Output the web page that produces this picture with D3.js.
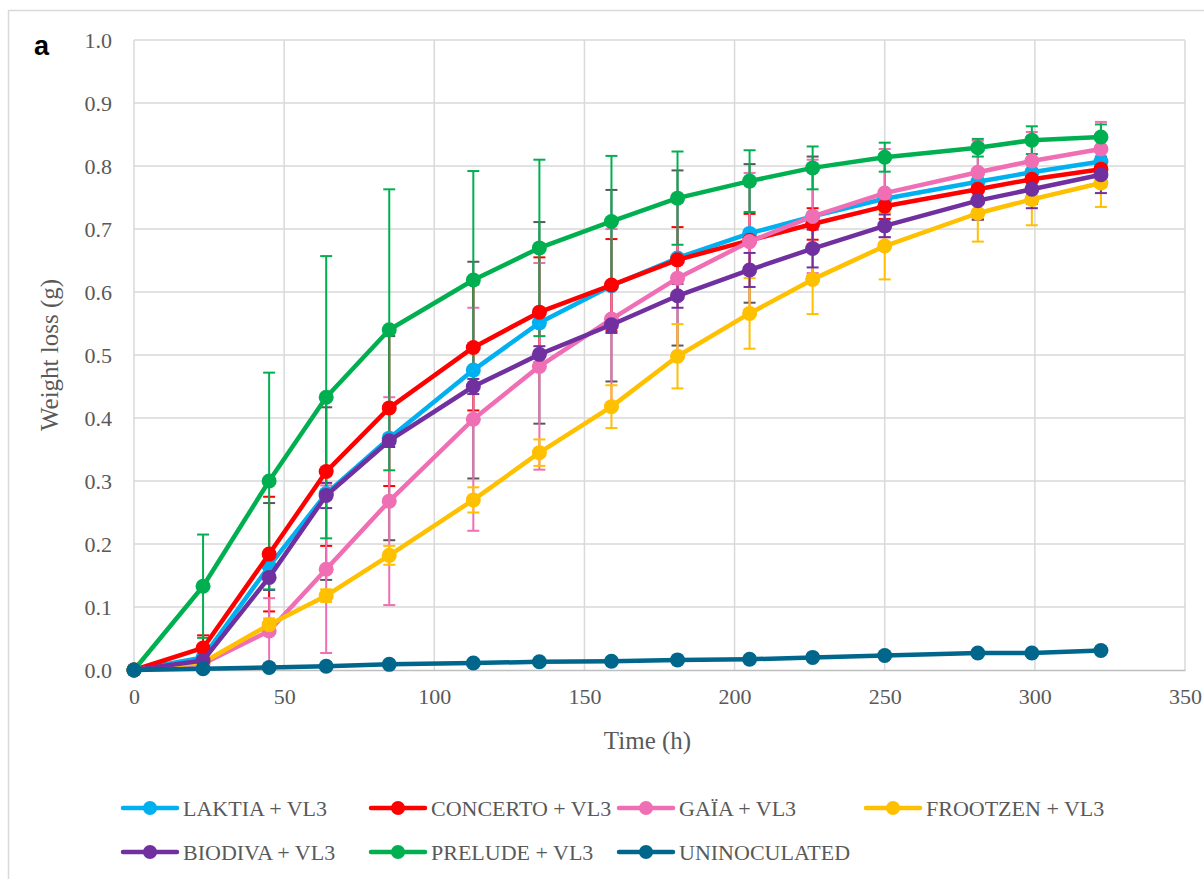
<!DOCTYPE html>
<html>
<head>
<meta charset="utf-8">
<script src="https://cdn.jsdelivr.net/npm/d3@7"></script>
<style>
  body { margin: 0; background: #fff; }
  text { font-family: "Liberation Serif", "Times New Roman", serif; fill: #595959; }
</style>
</head>
<body>
<script>
// sampling times (h)
const hours = [0, 23, 45, 64, 85, 113, 135, 159, 181, 205, 226, 250, 281, 299, 322]

// mean weight loss (g)
const laktia = [0, 0.02, 0.165, 0.28, 0.368, 0.476, 0.551, 0.61, 0.654, 0.693, 0.72, 0.748, 0.775, 0.79, 0.807]
const concerto = [0, 0.035, 0.184, 0.315, 0.416, 0.512, 0.568, 0.611, 0.651, 0.682, 0.708, 0.736, 0.763, 0.779, 0.795]
const gaia = [0, 0.01, 0.062, 0.16, 0.268, 0.398, 0.482, 0.557, 0.622, 0.68, 0.72, 0.757, 0.79, 0.808, 0.827]
const frootzen = [0, 0.012, 0.072, 0.118, 0.182, 0.27, 0.345, 0.418, 0.498, 0.566, 0.62, 0.673, 0.725, 0.747, 0.773]
const biodiva = [0, 0.015, 0.147, 0.277, 0.364, 0.45, 0.501, 0.548, 0.594, 0.635, 0.669, 0.705, 0.745, 0.763, 0.786]
const prelude = [0, 0.133, 0.30, 0.433, 0.54, 0.619, 0.67, 0.712, 0.749, 0.776, 0.797, 0.814, 0.829, 0.841, 0.846]
const uninoculated = [0, 0.002, 0.004, 0.006, 0.009, 0.011, 0.013, 0.014, 0.016, 0.017, 0.02, 0.023, 0.027, 0.027, 0.031]

// standard deviations (error bars)
const laktiaSd = [0, 0.01, 0.10, 0.137, 0.162, 0.172, 0.16, 0.152, 0.139, 0.11, 0.095, 0.07, 0.06, 0.05, 0.04]
const concertoSd = [0, 0.02, 0.091, 0.118, 0.124, 0.10, 0.087, 0.073, 0.052, 0.042, 0.025, 0.02, 0.015, 0.015, 0.012]
const gaiaSd = [0, 0.01, 0.052, 0.133, 0.165, 0.177, 0.164, 0.143, 0.12, 0.109, 0.09, 0.07, 0.05, 0.046, 0.043]
const frootzenSd = [0, 0.005, 0.01, 0.01, 0.015, 0.02, 0.021, 0.034, 0.051, 0.056, 0.055, 0.053, 0.045, 0.041, 0.038]
const biodivaSd = [0, 0.005, 0.02, 0.02, 0.01, 0.012, 0.013, 0.013, 0.019, 0.027, 0.03, 0.018, 0.03, 0.03, 0.029]
const preludeSd = [0, 0.082, 0.172, 0.224, 0.223, 0.173, 0.14, 0.104, 0.074, 0.049, 0.034, 0.023, 0.014, 0.022, 0.02]
const uninoculatedSd = [0, 0.001, 0.001, 0.001, 0.002, 0.002, 0.002, 0.002, 0.002, 0.002, 0.002, 0.002, 0.002, 0.002, 0.002]

const seriesNames = ["LAKTIA + VL3", "CONCERTO + VL3", "GAÏA + VL3", "FROOTZEN + VL3", "BIODIVA + VL3", "PRELUDE + VL3", "UNINOCULATED"]
const seriesValues = [laktia, concerto, gaia, frootzen, biodiva, prelude, uninoculated]
const seriesSd = [laktiaSd, concertoSd, gaiaSd, frootzenSd, biodivaSd, preludeSd, uninoculatedSd]

const xTicks = [0, 50, 100, 150, 200, 250, 300, 350]
const yTicks = [0, 0.1, 0.2, 0.3, 0.4, 0.5, 0.6, 0.7, 0.8, 0.9, 1.0]

// style
const colors = ["#00B0F0", "#FF0000", "#F06EB4", "#FFC000", "#7030A0", "#00B050", "#00668C"]
const errColors = ["#595959", "#FF0000", "#F06EB4", "#FFC000", "#7030A0", "#00B050", "#00668C"]

const dimensions = {
  width: 1204,
  height: 879,
  margin: { top: 40, right: 19, bottom: 209, left: 134 },
}
dimensions.boundedWidth = dimensions.width - dimensions.margin.left - dimensions.margin.right
dimensions.boundedHeight = dimensions.height - dimensions.margin.top - dimensions.margin.bottom

const wrapper = d3.select("body")
  .append("svg")
    .attr("width", dimensions.width)
    .attr("height", dimensions.height)

// outer frame
wrapper.append("rect")
  .attr("x", 8.5).attr("y", 10.5)
  .attr("width", 1200).attr("height", 880)
  .attr("fill", "none")
  .attr("stroke", "#d9d9d9")
  .attr("stroke-width", 1.5)

wrapper.append("text")
  .attr("x", 34).attr("y", 55)
  .style("font-family", "'Liberation Sans', Arial, sans-serif")
  .style("font-weight", "bold")
  .style("font-size", "27px")
  .style("fill", "#000")
  .text("a")

const bounds = wrapper.append("g")
  .attr("transform", `translate(${dimensions.margin.left}, ${dimensions.margin.top})`)

const xScale = d3.scaleLinear()
  .domain([0, 350])
  .range([0, dimensions.boundedWidth])

const yScale = d3.scaleLinear()
  .domain([0, 1])
  .range([dimensions.boundedHeight, 0])

// gridlines
bounds.append("g")
  .selectAll("line")
  .data(yTicks.slice(1))
  .join("line")
    .attr("x1", 0).attr("x2", dimensions.boundedWidth)
    .attr("y1", d => yScale(d)).attr("y2", d => yScale(d))
    .attr("stroke", "#d9d9d9").attr("stroke-width", 1.5)

bounds.append("g")
  .selectAll("line")
  .data(xTicks)
  .join("line")
    .attr("x1", d => xScale(d)).attr("x2", d => xScale(d))
    .attr("y1", 0).attr("y2", dimensions.boundedHeight)
    .attr("stroke", "#d9d9d9").attr("stroke-width", 1.5)

// axes
const xAxisGenerator = d3.axisBottom(xScale)
  .tickValues(xTicks)
  .tickSize(0)
  .tickPadding(18)
  .tickFormat(d3.format("d"))

const xAxis = bounds.append("g")
  .attr("transform", `translate(0, ${dimensions.boundedHeight})`)
  .call(xAxisGenerator)
xAxis.select(".domain").attr("stroke", "#bfbfbf").attr("stroke-width", 1.5)
xAxis.selectAll("text").style("font-size", "22px").style("fill", "#595959")

const yAxisGenerator = d3.axisLeft(yScale)
  .tickValues(yTicks)
  .tickSize(0)
  .tickPadding(22)
  .tickFormat(d3.format(".1f"))

const yAxis = bounds.append("g").call(yAxisGenerator)
yAxis.select(".domain").remove()
yAxis.selectAll("text").style("font-size", "22px").style("fill", "#595959")

bounds.append("text")
  .attr("x", dimensions.boundedWidth / 2 - 12)
  .attr("y", dimensions.boundedHeight + 79)
  .attr("text-anchor", "middle")
  .style("font-size", "25px")
  .text("Time (h)")

bounds.append("text")
  .attr("x", -dimensions.boundedHeight / 2)
  .attr("y", -76)
  .attr("transform", "rotate(-90)")
  .attr("text-anchor", "middle")
  .style("font-size", "25px")
  .text("Weight loss (g)")

// series data
const series = seriesNames.map((name, i) => ({
  name,
  color: colors[i],
  errColor: errColors[i],
  points: hours.map((h, j) => ({ x: h, y: seriesValues[i][j], sd: seriesSd[i][j] })),
}))

// error bars
const capHalf = 6
series.forEach(s => {
  const g = bounds.append("g")
    .attr("stroke", s.errColor)
    .attr("stroke-width", 2)
  const pts = s.points.filter(p => p.sd > 0.003)
  g.selectAll(".bar").data(pts).join("line")
    .attr("x1", d => xScale(d.x)).attr("x2", d => xScale(d.x))
    .attr("y1", d => yScale(d.y + d.sd)).attr("y2", d => yScale(Math.max(0, d.y - d.sd)))
  g.selectAll(".capTop").data(pts).join("line")
    .attr("x1", d => xScale(d.x) - capHalf).attr("x2", d => xScale(d.x) + capHalf)
    .attr("y1", d => yScale(d.y + d.sd)).attr("y2", d => yScale(d.y + d.sd))
  g.selectAll(".capBottom").data(pts.filter(p => p.y - p.sd > 0)).join("line")
    .attr("x1", d => xScale(d.x) - capHalf).attr("x2", d => xScale(d.x) + capHalf)
    .attr("y1", d => yScale(d.y - d.sd)).attr("y2", d => yScale(d.y - d.sd))
})

// lines and markers
const lineGenerator = d3.line()
  .x(d => xScale(d.x))
  .y(d => yScale(d.y))

series.forEach(s => {
  bounds.append("path")
    .datum(s.points)
    .attr("d", lineGenerator)
    .attr("fill", "none")
    .attr("stroke", s.color)
    .attr("stroke-width", 4.5)
    .attr("stroke-linejoin", "round")
  bounds.append("g")
    .selectAll("circle")
    .data(s.points)
    .join("circle")
      .attr("cx", d => xScale(d.x))
      .attr("cy", d => yScale(d.y))
      .attr("r", 7.5)
      .attr("fill", s.color)
})

// legend
const legendCols = [123, 371, 619, 866]
const legendRows = [808, 852]
const legend = wrapper.append("g")
series.forEach((s, i) => {
  const lx = legendCols[i % 4]
  const ly = legendRows[Math.floor(i / 4)]
  const item = legend.append("g").attr("transform", `translate(${lx}, ${ly})`)
  item.append("line")
    .attr("x1", 0).attr("x2", 54)
    .attr("stroke", s.color).attr("stroke-width", 4.5)
    .attr("stroke-linecap", "round")
  item.append("circle")
    .attr("cx", 27).attr("r", 7).attr("fill", s.color)
  item.append("text")
    .attr("x", 60).attr("dy", "0.35em")
    .style("font-size", "22px")
    .text(s.name)
})
</script>
</body>
</html>
